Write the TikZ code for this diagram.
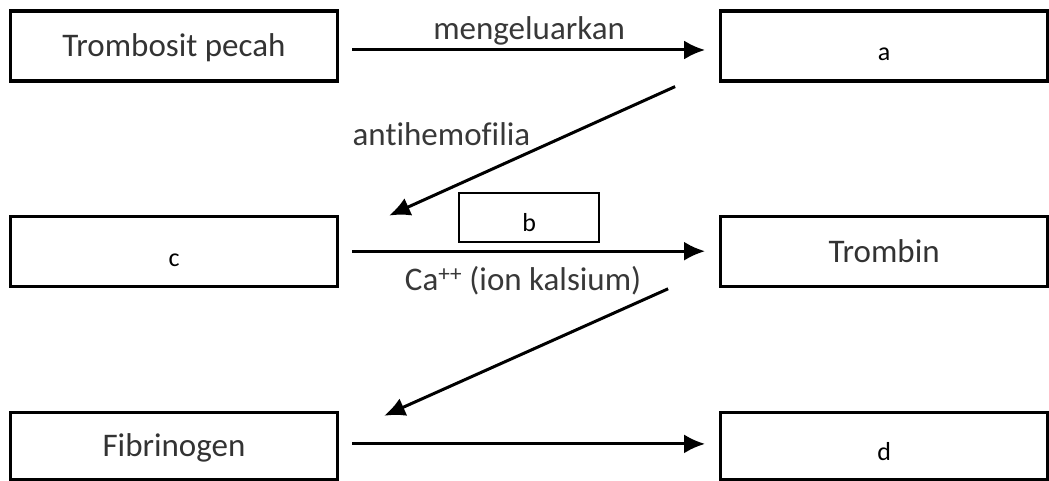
\documentclass[tikz,border=0pt]{standalone}
\usepackage{fontspec}
\setmainfont{Carlito}[Ligatures=NoCommon]
\usepackage{tikz}
\usetikzlibrary{arrows.meta}
\usetikzlibrary{positioning}

\begin{document}
\begin{tikzpicture}

\tikzstyle{mybox} = [rectangle, draw=black, line width=3.2pt, minimum width=327pt,
minimum height=70pt, text height=26pt, text depth=4pt, text=black!80,
font=\fontsize{33}{40}\selectfont]
\tikzstyle{myletter} = [mybox, text height=30pt, text depth=0pt, text=black,
font=\fontsize{26}{30}\selectfont]
\tikzstyle{mysmall} = [rectangle, draw=black, line width=2pt, minimum width=140pt,
minimum height=49pt, inner sep=0pt, text height=28pt, text depth=0pt,
font=\fontsize{26}{30}\selectfont]
\tikzstyle{mylabel} = [text=black!78, font=\fontsize{33}{40}\selectfont]
\tikzstyle{myarrow} = [line width=3pt, -{Latex[length=21pt,width=19pt]}]

\useasboundingbox (0pt,0pt) rectangle (1049pt,-481pt);

\node[mybox] (trombosit) at (174pt,-46pt) {Trombosit pecah};
\node[myletter, right=380pt of trombosit] (a) {a};

\node[myletter, below=132pt of trombosit] (c) {c};
\node[mybox, right=380pt of c] (trombin) {Trombin};

\node[mybox, minimum height=67pt, below=123pt of c] (fibrinogen) {Fibrinogen};
\node[myletter, minimum height=67pt, right=380pt of fibrinogen] (d) {d};

% free ends of the slanted arrows
\coordinate (a-out) at ([shift={(-44pt,-4pt)}]a.south west);
\coordinate (c-in) at ([shift={(50pt,-1pt)}]c.north east);
\coordinate (trombin-out) at ([shift={(-51pt,-1pt)}]trombin.south west);
\coordinate (fibrinogen-in) at ([shift={(45pt,-5pt)}]fibrinogen.north east);

\draw[myarrow, shorten <=13pt, shorten >=14pt] ([yshift=-4pt]trombosit.east) -- ([yshift=-4pt]a.west)
  node[mylabel, midway, above=0pt] (mengeluarkan) {mengeluarkan};

\draw[myarrow] (a-out) -- (c-in)
  node[mylabel, midway, above left=1pt and -3pt] (antihemofilia) {antihemofilia};

\draw[myarrow, shorten <=13pt, shorten >=14pt] (c.east) -- (trombin.west)
  node[mysmall, midway, above=8pt] (b) {b}
  node[mylabel, midway, below=10pt, xshift=-6pt] (kalsium) {Ca\textsuperscript{++} (ion kalsium)};

\draw[myarrow] (trombin-out) -- (fibrinogen-in);

\draw[myarrow, shorten <=13pt, shorten >=14pt] ([yshift=2pt]fibrinogen.east) -- ([yshift=2pt]d.west);

\end{tikzpicture}
\end{document}
